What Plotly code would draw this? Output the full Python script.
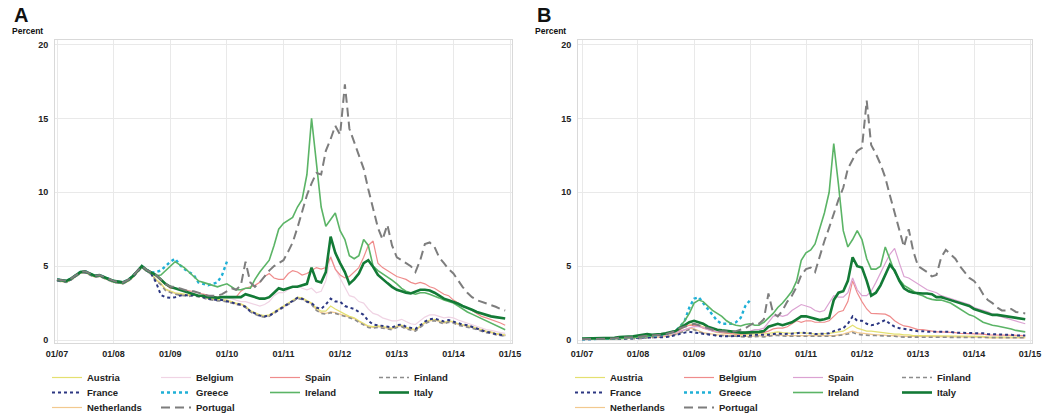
import pandas as pd
import plotly.graph_objects as go

# ---------------- data ----------------
DATES = pd.date_range("2007-01-01", periods=96, freq="MS")
X_TICK_DATES = pd.date_range("2007-01-01", "2015-01-01", freq="YS")
X_TICK_LABELS = ["01/07", "01/08", "01/09", "01/10", "01/11", "01/12", "01/13", "01/14", "01/15"]
Y_TICKS = [0, 5, 10, 15, 20]
N = None

# Panel A : yields (percent)
A_AUSTRIA = [4.05,4.0,3.95,4.1,4.3,4.55,4.6,4.45,4.3,4.35,4.2,4.1,
             3.95,3.9,3.85,4.0,4.25,4.6,4.95,4.7,4.5,4.1,3.85,3.45,
             3.3,3.2,3.15,3.1,3.05,3.1,3.0,2.95,2.85,2.8,2.75,2.75,
             2.7,2.6,2.5,2.45,2.3,2.0,1.85,1.7,1.65,1.7,1.9,2.1,
             2.3,2.55,2.75,2.9,2.85,2.65,2.5,2.15,1.95,1.95,2.3,2.1,
             1.9,1.75,1.6,1.5,1.3,1.1,0.95,0.9,0.95,0.9,0.85,0.8,
             0.95,1.0,0.85,0.75,0.7,0.95,1.2,1.35,1.4,1.3,1.2,1.3,
             1.25,1.1,1.05,1.0,0.9,0.8,0.7,0.6,0.55,0.45,0.4,0.35]
A_NETHERLANDS = [4.0,3.95,3.9,4.05,4.25,4.5,4.55,4.4,4.25,4.3,4.15,4.05,
                 3.9,3.85,3.8,3.95,4.2,4.55,4.9,4.65,4.45,4.05,3.8,3.4,
                 3.25,3.15,3.1,3.05,3.0,3.05,2.95,2.9,2.8,2.75,2.7,2.7,
                 2.65,2.55,2.45,2.4,2.25,1.95,1.8,1.65,1.6,1.65,1.85,2.05,
                 2.25,2.5,2.7,2.85,2.8,2.6,2.45,2.05,1.85,1.8,1.9,1.85,
                 1.75,1.65,1.55,1.45,1.25,1.05,0.9,0.85,0.9,0.85,0.8,0.75,
                 0.9,0.95,0.8,0.7,0.65,0.9,1.15,1.3,1.35,1.25,1.15,1.25,
                 1.2,1.05,1.0,0.95,0.85,0.75,0.65,0.55,0.5,0.4,0.35,0.3]
A_FINLAND = [4.0,3.95,3.9,4.05,4.25,4.5,4.55,4.4,4.25,4.3,4.15,4.05,
             3.9,3.85,3.8,3.95,4.2,4.55,4.9,4.65,4.45,4.0,3.75,3.35,
             3.2,3.1,3.05,3.0,2.95,3.0,2.9,2.85,2.75,2.7,2.65,2.65,
             2.6,2.5,2.4,2.35,2.2,1.9,1.75,1.6,1.55,1.6,1.8,2.0,
             2.2,2.45,2.65,2.8,2.75,2.55,2.4,2.0,1.8,1.75,1.85,1.8,
             1.7,1.6,1.5,1.4,1.2,1.0,0.85,0.8,0.85,0.8,0.75,0.7,
             0.85,0.9,0.75,0.65,0.6,0.85,1.1,1.25,1.3,1.2,1.1,1.2,
             1.15,1.0,0.95,0.9,0.8,0.7,0.6,0.5,0.45,0.35,0.3,0.25]
A_FRANCE = [4.05,4.0,3.95,4.1,4.3,4.55,4.6,4.45,4.3,4.35,4.2,4.1,
            3.95,3.9,3.85,4.0,4.25,4.6,4.95,4.7,4.45,3.9,3.05,2.9,
            2.85,2.9,3.0,3.05,3.0,3.05,2.95,2.9,2.8,2.75,2.7,2.7,
            2.65,2.55,2.45,2.4,2.25,1.95,1.8,1.65,1.6,1.65,1.85,2.05,
            2.25,2.5,2.7,2.85,2.8,2.6,2.5,2.2,2.1,2.4,2.8,2.6,
            2.6,2.3,2.2,2.1,1.9,1.7,1.3,1.05,1.0,0.95,0.9,0.85,
            1.0,1.05,0.9,0.8,0.75,1.0,1.25,1.4,1.45,1.35,1.25,1.35,
            1.25,1.1,1.05,1.0,0.9,0.8,0.65,0.55,0.5,0.4,0.35,0.3]
A_BELGIUM = [4.1,4.05,4.0,4.15,4.35,4.6,4.65,4.5,4.35,4.4,4.25,4.15,
             4.0,3.95,3.9,4.05,4.3,4.65,5.0,4.75,4.55,4.3,4.0,3.75,
             3.6,3.5,3.45,3.4,3.3,3.3,3.2,3.1,3.0,2.95,2.9,2.9,
             2.85,2.8,2.7,2.6,2.6,2.5,2.4,2.3,2.4,2.6,3.0,3.2,
             3.2,3.4,3.6,3.7,3.5,3.4,3.5,3.2,3.3,4.0,5.7,4.8,
             4.2,3.5,3.0,2.9,2.6,2.5,2.1,1.8,1.7,1.5,1.4,1.3,
             1.3,1.4,1.25,1.1,1.05,1.3,1.55,1.7,1.7,1.6,1.5,1.55,
             1.5,1.35,1.25,1.15,1.0,0.9,0.8,0.7,0.65,0.55,0.5,0.45]
A_SPAIN = [4.1,4.05,4.0,4.15,4.35,4.6,4.65,4.5,4.35,4.4,4.25,4.15,
           4.0,3.95,3.9,4.05,4.3,4.65,5.0,4.75,4.55,4.35,4.05,3.75,
           3.5,3.5,3.4,3.4,3.35,3.3,3.2,3.1,3.0,2.95,2.9,2.9,
           2.9,2.9,2.9,3.3,3.5,3.6,3.7,3.9,4.3,4.5,4.2,4.1,
           4.1,4.5,4.7,4.6,4.4,4.5,4.7,4.9,4.8,4.9,5.6,4.8,
           4.4,4.2,4.3,4.6,4.9,5.6,6.4,6.7,5.2,4.9,4.7,4.5,
           4.3,4.2,4.1,3.9,3.8,3.9,3.8,3.6,3.5,3.3,3.1,3.0,
           2.7,2.5,2.3,2.2,2.0,1.8,1.6,1.5,1.4,1.3,1.15,1.0]
A_ITALY = [4.1,4.05,4.0,4.15,4.35,4.6,4.65,4.5,4.35,4.4,4.25,4.15,
           4.0,3.95,3.9,4.05,4.3,4.65,5.0,4.75,4.55,4.4,4.1,3.8,
           3.6,3.5,3.4,3.3,3.2,3.1,3.0,3.0,2.9,2.9,2.85,2.9,
           2.9,2.9,2.9,2.9,3.1,3.0,2.9,2.8,2.8,2.9,3.2,3.5,
           3.4,3.5,3.6,3.6,3.7,3.8,4.9,4.0,3.9,4.6,7.0,5.9,
           5.2,4.6,3.8,4.1,4.5,5.2,5.4,4.95,4.4,4.1,3.85,3.6,
           3.4,3.3,3.2,3.15,3.3,3.4,3.4,3.35,3.2,3.0,2.8,2.7,
           2.6,2.45,2.3,2.2,2.05,1.9,1.8,1.7,1.6,1.55,1.5,1.45]
A_IRELAND = [4.05,4.0,3.95,4.1,4.3,4.55,4.6,4.45,4.3,4.35,4.2,4.1,
             3.95,3.9,3.85,4.0,4.25,4.6,4.95,4.7,4.5,4.35,4.4,4.7,
             5.0,5.3,5.1,4.9,4.6,4.3,4.0,3.9,3.8,3.65,3.6,3.7,
             3.8,3.6,3.4,3.4,3.5,3.5,4.1,4.6,5.0,5.4,6.4,7.5,
             7.9,8.1,8.3,9.0,9.5,11.2,15.0,12.0,9.0,7.7,8.2,8.6,
             7.4,6.8,5.7,5.5,5.7,6.8,6.4,5.0,4.7,4.5,4.3,4.05,
             3.8,3.5,3.3,3.2,3.1,3.2,3.2,3.1,3.0,2.85,2.7,2.6,
             2.5,2.3,2.1,1.9,1.75,1.6,1.45,1.3,1.15,1.0,0.85,0.7]
A_GREECE = [4.1,4.05,4.0,4.15,4.35,4.6,4.65,4.5,4.35,4.4,4.25,4.15,
            4.0,3.95,3.9,4.05,4.3,4.65,5.0,4.75,4.55,4.6,4.7,5.0,
            5.3,5.5,5.1,4.8,4.6,4.4,3.9,3.8,3.7,3.8,3.9,4.4,
            5.3,N,N,N,N,N,N,N,N,N,N,N,
            N,N,N,N,N,N,N,N,N,N,N,N,
            N,N,N,N,N,N,N,N,N,N,N,N,
            N,N,N,N,N,N,N,N,N,N,N,N,
            N,N,N,N,N,N,N,N,N,N,N,N]
A_PORTUGAL = [4.1,4.05,4.0,4.15,4.35,4.6,4.65,4.5,4.35,4.4,4.25,4.15,
              4.0,3.95,3.9,4.05,4.3,4.65,5.0,4.75,4.55,4.4,4.1,3.8,
              3.6,3.6,3.5,3.4,3.3,3.3,3.2,3.1,3.0,3.0,3.0,3.1,
              3.3,3.5,3.4,3.7,5.3,3.9,3.6,3.9,4.3,4.7,5.0,5.2,
              5.4,6.0,6.6,7.6,8.6,9.8,10.6,11.3,11.2,12.8,13.6,14.5,
              13.9,17.3,14.3,13.4,12.5,11.6,10.2,8.9,7.6,6.8,7.8,6.4,
              5.6,5.4,5.2,5.0,4.6,5.4,6.5,6.6,6.3,5.6,5.2,4.8,
              4.5,4.0,3.6,3.2,2.9,2.7,2.6,2.5,2.35,2.25,2.1,2.0]

# Panel B : spreads (percentage points)
B_AUSTRIA = [0.05,0.05,0.05,0.05,0.05,0.05,0.05,0.1,0.1,0.1,0.15,0.15,
             0.2,0.25,0.3,0.25,0.25,0.3,0.35,0.4,0.5,0.7,0.9,1.0,
             1.1,1.0,0.9,0.8,0.6,0.5,0.5,0.45,0.4,0.35,0.35,0.35,
             0.4,0.45,0.45,0.4,0.45,0.5,0.55,0.5,0.45,0.45,0.5,0.5,
             0.5,0.45,0.4,0.4,0.4,0.45,0.5,0.55,0.6,0.8,1.0,0.8,
             0.7,0.6,0.6,0.55,0.55,0.5,0.45,0.4,0.4,0.35,0.35,0.3,
             0.3,0.3,0.3,0.25,0.25,0.25,0.3,0.3,0.3,0.25,0.25,0.25,
             0.25,0.25,0.25,0.2,0.2,0.2,0.2,0.2,0.2,0.2,0.2,0.2]
B_NETHERLANDS = [0.05,0.05,0.05,0.05,0.05,0.05,0.05,0.05,0.1,0.1,0.1,0.1,
                 0.15,0.15,0.2,0.2,0.2,0.2,0.25,0.3,0.4,0.55,0.7,0.8,
                 0.75,0.6,0.5,0.45,0.4,0.35,0.35,0.3,0.3,0.3,0.25,0.25,
                 0.25,0.3,0.3,0.25,0.3,0.35,0.35,0.3,0.3,0.3,0.3,0.3,
                 0.3,0.3,0.25,0.25,0.25,0.3,0.3,0.35,0.4,0.5,0.6,0.5,
                 0.45,0.4,0.4,0.35,0.35,0.3,0.3,0.3,0.25,0.25,0.25,0.25,
                 0.25,0.25,0.25,0.2,0.2,0.2,0.25,0.25,0.25,0.2,0.2,0.2,
                 0.2,0.2,0.2,0.15,0.15,0.15,0.15,0.15,0.15,0.15,0.15,0.15]
B_FINLAND = [0.05,0.05,0.05,0.05,0.05,0.05,0.05,0.05,0.05,0.1,0.1,0.1,
             0.1,0.1,0.15,0.15,0.15,0.15,0.2,0.25,0.35,0.45,0.6,0.7,
             0.7,0.55,0.45,0.4,0.35,0.3,0.3,0.25,0.25,0.25,0.2,0.2,
             0.2,0.25,0.25,0.2,0.25,0.3,0.3,0.25,0.25,0.25,0.25,0.25,
             0.25,0.25,0.2,0.2,0.2,0.25,0.25,0.3,0.35,0.4,0.5,0.4,
             0.35,0.3,0.3,0.3,0.3,0.25,0.25,0.25,0.2,0.2,0.2,0.2,
             0.2,0.2,0.2,0.15,0.15,0.15,0.2,0.2,0.2,0.15,0.15,0.15,
             0.15,0.15,0.15,0.15,0.15,0.15,0.15,0.15,0.15,0.15,0.15,0.15]
B_FRANCE = [0.05,0.05,0.05,0.05,0.05,0.05,0.05,0.05,0.1,0.1,0.1,0.1,
            0.15,0.15,0.15,0.15,0.15,0.2,0.2,0.25,0.35,0.45,0.5,0.55,
            0.5,0.45,0.4,0.35,0.3,0.3,0.25,0.25,0.25,0.25,0.25,0.3,
            0.3,0.35,0.35,0.3,0.35,0.4,0.45,0.4,0.4,0.4,0.45,0.5,
            0.5,0.45,0.4,0.4,0.4,0.45,0.6,0.7,0.8,1.1,1.6,1.3,
            1.3,1.1,1.0,1.05,1.2,1.35,1.1,0.9,0.8,0.75,0.7,0.65,
            0.6,0.6,0.55,0.55,0.55,0.6,0.6,0.55,0.5,0.5,0.5,0.5,
            0.5,0.45,0.45,0.4,0.4,0.4,0.35,0.35,0.35,0.3,0.3,0.3]
B_BELGIUM = [0.05,0.05,0.05,0.05,0.05,0.05,0.1,0.1,0.1,0.1,0.15,0.15,
             0.2,0.2,0.25,0.25,0.25,0.3,0.35,0.4,0.5,0.7,0.9,1.0,
             1.0,0.95,0.8,0.7,0.6,0.55,0.5,0.45,0.4,0.4,0.4,0.4,
             0.45,0.5,0.5,0.5,0.6,0.75,0.8,0.8,0.9,1.1,1.3,1.2,
             1.3,1.3,1.2,1.2,1.2,1.3,1.6,1.9,2.0,2.6,4.0,3.2,
             2.6,2.1,1.8,1.8,1.8,1.75,1.6,1.3,1.1,0.95,0.9,0.8,
             0.7,0.7,0.65,0.6,0.55,0.55,0.55,0.5,0.5,0.45,0.45,0.45,
             0.45,0.4,0.4,0.35,0.35,0.35,0.3,0.3,0.3,0.3,0.3,0.3]
B_SPAIN = [0.05,0.05,0.05,0.05,0.05,0.05,0.1,0.1,0.1,0.1,0.15,0.15,
           0.15,0.2,0.25,0.25,0.3,0.3,0.35,0.4,0.5,0.6,0.7,0.8,
           0.9,0.9,0.85,0.7,0.6,0.55,0.55,0.55,0.55,0.55,0.5,0.55,
           0.6,0.7,0.7,0.8,1.2,1.6,1.7,1.6,1.7,2.0,2.2,2.4,
           2.3,2.2,2.0,1.9,2.0,2.5,3.0,2.9,2.9,3.2,4.2,3.4,
           3.0,3.0,3.3,3.9,4.6,5.2,5.8,6.2,5.2,4.3,4.2,4.0,
           3.8,3.6,3.4,3.3,3.2,3.0,2.9,2.8,2.7,2.6,2.5,2.4,
           2.2,2.1,2.0,1.9,1.75,1.65,1.55,1.45,1.35,1.25,1.15,1.1]
B_ITALY = [0.1,0.1,0.1,0.1,0.1,0.15,0.15,0.15,0.2,0.2,0.2,0.25,
           0.3,0.35,0.4,0.35,0.35,0.4,0.45,0.5,0.6,0.8,1.0,1.2,
           1.3,1.2,1.1,0.9,0.8,0.7,0.65,0.6,0.55,0.5,0.5,0.5,
           0.5,0.55,0.55,0.6,0.9,1.0,1.1,1.0,1.1,1.2,1.4,1.6,
           1.6,1.5,1.4,1.35,1.4,1.5,2.7,3.2,3.3,4.0,5.6,5.0,
           4.9,4.0,3.0,3.2,3.7,4.4,5.1,4.7,4.0,3.5,3.3,3.2,
           3.15,3.15,3.15,3.1,2.9,2.9,2.8,2.7,2.6,2.5,2.4,2.3,
           2.1,2.0,1.9,1.8,1.7,1.7,1.65,1.6,1.55,1.5,1.45,1.4]
B_IRELAND = [0.05,0.05,0.05,0.05,0.05,0.05,0.1,0.1,0.1,0.1,0.15,0.15,
             0.2,0.2,0.25,0.25,0.3,0.35,0.4,0.5,0.6,0.9,1.3,1.8,
             2.5,2.7,2.6,2.3,2.0,1.8,1.6,1.3,1.1,1.0,0.95,1.05,
             1.1,1.0,1.0,1.2,1.5,1.8,2.2,2.5,2.9,3.3,4.0,5.4,
             5.9,6.1,6.5,7.6,8.6,10.0,13.3,10.5,7.4,6.3,6.8,7.4,
             6.8,5.5,4.8,4.8,5.0,6.3,5.5,4.6,4.1,3.7,3.5,3.3,
             3.1,3.0,2.85,2.75,2.7,2.7,2.6,2.5,2.3,2.1,1.9,1.7,
             1.6,1.4,1.2,1.1,1.0,0.95,0.9,0.85,0.75,0.65,0.6,0.55]
B_GREECE = [0.05,0.05,0.05,0.05,0.05,0.1,0.1,0.1,0.15,0.15,0.15,0.2,
            0.25,0.25,0.3,0.3,0.3,0.35,0.4,0.5,0.6,0.9,1.3,2.2,
            2.8,2.9,2.5,2.1,1.7,1.3,1.1,1.1,1.1,1.2,1.5,2.3,
            2.7,N,N,N,N,N,N,N,N,N,N,N,
            N,N,N,N,N,N,N,N,N,N,N,N,
            N,N,N,N,N,N,N,N,N,N,N,N,
            N,N,N,N,N,N,N,N,N,N,N,N,
            N,N,N,N,N,N,N,N,N,N,N,N]
B_PORTUGAL = [0.05,0.05,0.05,0.05,0.05,0.1,0.1,0.1,0.15,0.15,0.15,0.2,
              0.2,0.25,0.3,0.3,0.3,0.35,0.4,0.5,0.6,0.8,0.9,1.0,
              1.1,1.0,0.9,0.8,0.7,0.6,0.6,0.55,0.55,0.6,0.7,0.8,
              1.0,1.2,1.1,1.4,3.15,1.8,1.6,2.0,2.6,3.0,3.6,4.4,
              4.8,4.9,4.6,5.7,6.7,7.6,8.6,9.5,10.3,11.6,12.2,12.8,
              13.0,16.2,13.2,12.6,11.9,11.0,9.8,8.6,7.4,6.3,7.5,6.0,
              5.0,4.8,4.6,4.3,4.4,5.6,6.1,5.8,5.5,5.0,4.6,4.2,
              4.0,3.6,3.1,2.7,2.5,2.2,2.0,2.0,2.1,1.9,1.85,1.8]

PANEL_A = {"Austria": A_AUSTRIA, "Belgium": A_BELGIUM, "Spain": A_SPAIN, "Finland": A_FINLAND,
           "France": A_FRANCE, "Greece": A_GREECE, "Ireland": A_IRELAND, "Italy": A_ITALY,
           "Netherlands": A_NETHERLANDS, "Portugal": A_PORTUGAL}
PANEL_B = {"Austria": B_AUSTRIA, "Belgium": B_BELGIUM, "Spain": B_SPAIN, "Finland": B_FINLAND,
           "France": B_FRANCE, "Greece": B_GREECE, "Ireland": B_IRELAND, "Italy": B_ITALY,
           "Netherlands": B_NETHERLANDS, "Portugal": B_PORTUGAL}

# ---------------- styles ----------------
LEGEND_ROWS = [["Austria", "Belgium", "Spain", "Finland"],
               ["France", "Greece", "Ireland", "Italy"],
               ["Netherlands", "Portugal"]]
DRAW_ORDER = ["Netherlands", "Austria", "Belgium", "Finland", "France", "Spain",
              "Greece", "Ireland", "Italy", "Portugal"]
LINE = {
    "Austria": dict(width=1.2, dash="solid"),
    "Netherlands": dict(width=1.2, dash="solid"),
    "Belgium": dict(width=1.2, dash="solid"),
    "Spain": dict(width=1.2, dash="solid"),
    "Finland": dict(width=1.6, dash="4px,3px"),
    "France": dict(width=2.0, dash="3px,3px"),
    "Greece": dict(width=2.4, dash="3px,3px"),
    "Ireland": dict(width=1.6, dash="solid"),
    "Italy": dict(width=2.6, dash="solid"),
    "Portugal": dict(width=2.0, dash="9px,5px"),
}
COLORS_A = {"Austria": "#e4e070", "Netherlands": "#f2c98f", "Belgium": "#f0d4e4",
            "Spain": "#ef8c8c", "Finland": "#8c8c8c", "France": "#2c3782",
            "Greece": "#1fb0d6", "Ireland": "#5bb466", "Italy": "#137a36", "Portugal": "#7d7d7d"}
COLORS_B = dict(COLORS_A, Belgium="#ef8c8c", Spain="#dba2d2")

FONT = "Liberation Sans, Arial, sans-serif"
W, H = 1046, 420


def px_x(p):
    return p / W


def px_y(p):
    return (H - p) / H


fig = go.Figure()


def add_panel(series, colors, xa, ya, legend_ids):
    for name in DRAW_ORDER:
        row = next(i for i, r in enumerate(LEGEND_ROWS) if name in r)
        col = LEGEND_ROWS[row].index(name)
        fig.add_trace(go.Scatter(
            x=DATES, y=series[name], mode="lines", name=name,
            line=dict(color=colors[name], width=LINE[name]["width"], dash=LINE[name]["dash"]),
            xaxis=xa, yaxis=ya, legend=legend_ids[row], legendrank=col + 1,
            connectgaps=False, hoverinfo="skip"))


add_panel(PANEL_A, COLORS_A, "x", "y", ["legend", "legend2", "legend3"])
add_panel(PANEL_B, COLORS_B, "x2", "y2", ["legend4", "legend5", "legend6"])

tickfont = dict(family=FONT, size=9, color="#222222", weight="bold")


def xaxis_cfg(left_px, right_px, d0_px, d1_px, anchor):
    # d0_px/d1_px: pixel position of 01/07 and 01/15
    t0 = pd.Timestamp("2007-01-01")
    t1 = pd.Timestamp("2015-01-01")
    span = (t1 - t0) / (d1_px - d0_px)
    r0 = t0 - span * (d0_px - left_px)
    r1 = t1 + span * (right_px - d1_px)
    return dict(domain=[px_x(left_px), px_x(right_px)], type="date", range=[r0, r1],
                tickvals=X_TICK_DATES, ticktext=X_TICK_LABELS, showgrid=True,
                gridcolor="#e9e9e9", gridwidth=1, showline=True, mirror=True,
                linecolor="#d9d9d9", linewidth=1, ticks="", zeroline=False,
                tickfont=tickfont, anchor=anchor, ticklabelstandoff=2)


def yaxis_cfg(anchor):
    top_px, bot_px = 40, 343
    y0_px, y20_px = 340, 44.5
    per = (y0_px - y20_px) / 20
    r0 = -(bot_px - y0_px) / per
    r1 = 20 + (y20_px - top_px) / per
    return dict(domain=[px_y(bot_px), px_y(top_px)], range=[r0, r1], tickvals=Y_TICKS,
                showgrid=True, gridcolor="#e9e9e9", gridwidth=1, showline=True, mirror=True,
                linecolor="#d9d9d9", linewidth=1, ticks="", zeroline=False,
                tickfont=tickfont, anchor=anchor, ticklabelstandoff=4)


legend_font = dict(family=FONT, size=9.5, color="#222222", weight="bold")
ROW_TOPS = [363, 378, 393]


def legend_cfg(x_px, y_px):
    return dict(orientation="h", x=px_x(x_px), y=px_y(y_px), xanchor="left", yanchor="top",
                xref="paper", yref="paper", entrywidth=64, entrywidthmode="pixels",
                font=legend_font, bgcolor="rgba(0,0,0,0)", traceorder="normal",
                itemclick=False, itemdoubleclick=False)


layout = dict(
    width=W, height=H, margin=dict(l=0, r=0, t=0, b=0, autoexpand=False),
    paper_bgcolor="white", plot_bgcolor="white", showlegend=True,
    xaxis=xaxis_cfg(55, 512, 57, 510, "y"),
    yaxis=yaxis_cfg("x"),
    xaxis2=xaxis_cfg(578, 1032, 582, 1030, "y2"),
    yaxis2=yaxis_cfg("x2"),
    annotations=[
        dict(text="A", x=px_x(12), y=px_y(2), xref="paper", yref="paper", xanchor="left",
             yanchor="top", showarrow=False, font=dict(family=FONT, size=20, color="#111", weight="bold")),
        dict(text="Percent", x=px_x(10), y=px_y(24), xref="paper", yref="paper", xanchor="left",
             yanchor="top", showarrow=False, font=dict(family=FONT, size=8.5, color="#111", weight="bold")),
        dict(text="B", x=px_x(535), y=px_y(2), xref="paper", yref="paper", xanchor="left",
             yanchor="top", showarrow=False, font=dict(family=FONT, size=20, color="#111", weight="bold")),
        dict(text="Percent", x=px_x(533), y=px_y(24), xref="paper", yref="paper", xanchor="left",
             yanchor="top", showarrow=False, font=dict(family=FONT, size=8.5, color="#111", weight="bold")),
    ],
)
for i, lid in enumerate(["legend", "legend2", "legend3"]):
    layout[lid] = legend_cfg(47, ROW_TOPS[i])
for i, lid in enumerate(["legend4", "legend5", "legend6"]):
    layout[lid] = legend_cfg(570, ROW_TOPS[i])

fig.update_layout(**layout)
fig.write_html("out.html", config={"displayModeBar": False})
